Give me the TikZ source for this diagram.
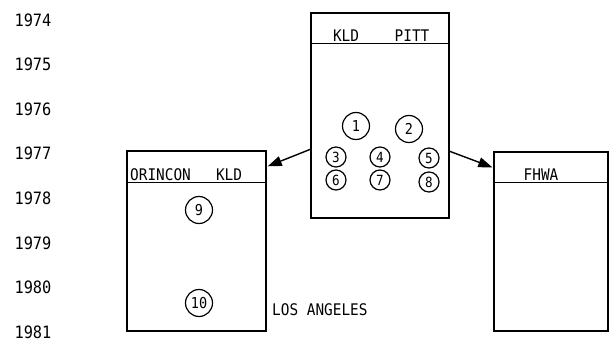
\documentclass[tikz,border=0pt]{standalone}
\usepackage{fontspec}
\newfontfamily\scanfont[FakeStretch=0.9]{DejaVu Sans Mono}
\usetikzlibrary{arrows.meta,calc}
\tikzset{
  box/.style={draw,line width=1.4pt,rectangle,inner sep=0pt},
  hdr/.style={line width=1.4pt},
  lbl/.style={font=\scanfont\fontsize{16}{16}\selectfont,inner sep=0pt},
  yr/.style={font=\scanfont\fontsize{17}{17}\selectfont,inner sep=0pt},
  bigc/.style={draw,circle,line width=1.2pt,minimum size=27pt,inner sep=0pt,font=\scanfont\fontsize{15}{15}\selectfont},
  smallc/.style={draw,circle,line width=1.2pt,minimum size=20pt,inner sep=0pt,font=\scanfont\fontsize{14}{14}\selectfont},
  arr/.style={line width=1.4pt,-{Triangle[length=14pt,width=10pt]}}
}
\begin{document}
\begin{tikzpicture}[x=1pt,y=-1pt]
\useasboundingbox (0,0) rectangle (609,344);
% years
\foreach \yy [count=\i from 0] in {1974,1975,1976,1977,1978,1979,1980,1981}{
  \node[yr] (y\yy) at (33,{20+44.6*\i}) {\yy};
}
% boxes
\node[box,minimum width=138pt,minimum height=205pt] (cbox) at (380,115.5) {};
\node[box,minimum width=139pt,minimum height=180pt] (lbox) at (196.5,241) {};
\node[box,minimum width=114pt,minimum height=179pt] (rbox) at (551,241.5) {};
% header lines
\draw[hdr] ($(cbox.north west)+(0,31)$) -- ($(cbox.north east)+(0,31)$);
\draw[hdr] ($(lbox.north west)+(0,32)$) -- ($(lbox.north east)+(0,32)$);
\draw[hdr] ($(rbox.north west)+(0,31)$) -- ($(rbox.north east)+(0,31)$);
% header texts
\node[lbl,anchor=base] (tkld) at (346,42) {KLD};
\node[lbl,anchor=base] (tpitt) at (412,42) {PITT};
\node[lbl,anchor=base west] (torin) at (130,181) {ORINCON};
\node[lbl,anchor=base] (tkld2) at (229,181) {KLD};
\node[lbl,anchor=base] (tfhwa) at (541,181) {FHWA};
\node[lbl,anchor=west] (tla) at (272,310) {LOS ANGELES};
% circles
\node[bigc] (c1) at (356,126) {1};
\node[bigc] (c2) at (409,129) {2};
\node[smallc] (c3) at (336,157) {3};
\node[smallc] (c4) at (380,157) {4};
\node[smallc] (c5) at (429,158) {5};
\node[smallc] (c6) at (336,180) {6};
\node[smallc] (c7) at (380,180) {7};
\node[smallc] (c8) at (429,182) {8};
\node[bigc] (c9) at (199,210) {9};
\node[bigc] (c10) at (199,303) {10};
% arrows
\draw[arr] ($(cbox.north west)+(0,137)$) -- ($(lbox.north east)+(1,16)$);
\draw[arr] ($(cbox.north east)+(0,139)$) -- ($(rbox.north west)+(-1,16)$);
\end{tikzpicture}
\end{document}
